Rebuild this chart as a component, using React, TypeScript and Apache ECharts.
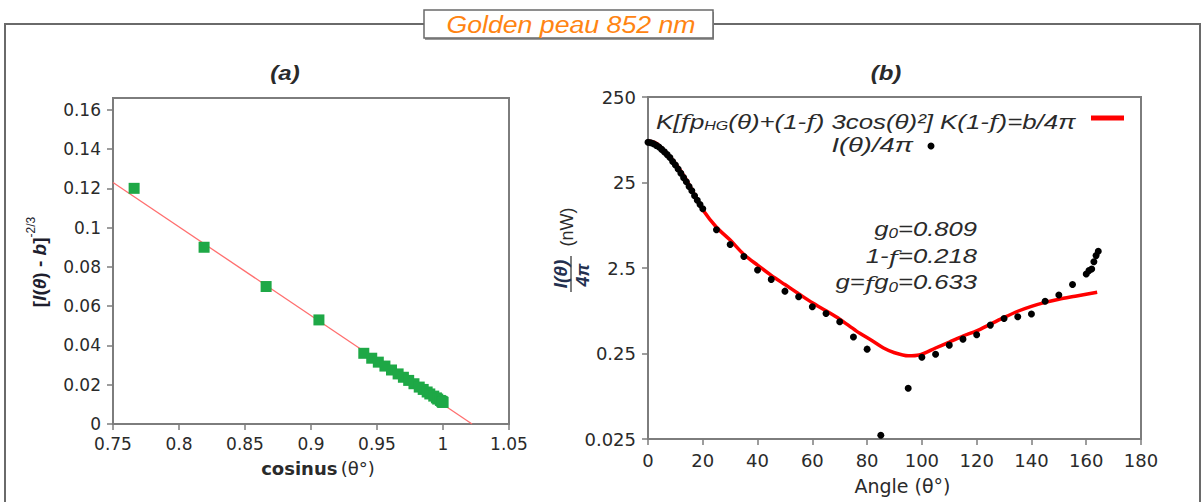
import React, { useEffect, useRef } from 'react';
import * as echarts from 'echarts';

// ---------- data: panel (a) ----------
const cosA = [0.766, 0.819, 0.866, 0.906, 0.94, 0.946, 0.951, 0.956, 0.961, 0.966, 0.97, 0.974, 0.978, 0.982, 0.985, 0.988, 0.99, 0.993, 0.995, 0.996, 0.998, 0.999, 0.9994, 0.9998, 1.0];
const valA = [0.12, 0.09, 0.07, 0.053, 0.036, 0.0335, 0.0315, 0.0295, 0.0275, 0.0255, 0.0238, 0.0222, 0.0205, 0.0188, 0.0176, 0.0163, 0.0153, 0.0142, 0.0133, 0.0127, 0.012, 0.0116, 0.0113, 0.0111, 0.011];
const fitAX = [0.75, 1.022];
const fitAY = [0.123, 0];

// ---------- data: panel (b) ----------
const angB = [0, 1, 2, 3, 4, 5, 6, 7, 8, 9, 10, 11, 12, 13, 14, 15, 16, 17, 18, 19, 20, 25, 30, 35, 40, 45, 50, 55, 60, 65, 70, 75, 80, 85, 95, 100, 105, 110, 115, 120, 125, 130, 135, 140, 145, 150, 155, 160, 161, 162, 162.8, 163.6, 164.4];
const valB = [74, 73, 71, 68, 65, 61, 57, 53, 49, 44, 40, 36, 32, 28.5, 25.5, 22.5, 20, 17.5, 15.5, 13.8, 12.3, 7.0, 4.7, 3.4, 2.37, 1.84, 1.34, 1.15, 0.88, 0.735, 0.587, 0.39, 0.281, 0.0276, 0.098, 0.226, 0.245, 0.313, 0.368, 0.414, 0.537, 0.643, 0.673, 0.723, 1.02, 1.21, 1.6, 2.13, 2.33, 2.43, 2.96, 3.49, 3.92];
const fitAngB = [0, 3, 6, 10, 14, 17, 20, 25, 30, 35, 40, 45, 50, 55, 60, 65, 70, 76, 82, 86, 90, 95, 99, 105, 110, 115, 120, 125, 130, 135, 140, 145, 150, 156, 164];
const fitValB = [77, 72, 59, 42, 27, 18, 12, 7.5, 5.3, 3.6, 2.7, 2.05, 1.6, 1.25, 0.98, 0.79, 0.63, 0.46, 0.35, 0.29, 0.255, 0.235, 0.24, 0.29, 0.34, 0.4, 0.46, 0.55, 0.66, 0.78, 0.89, 0.99, 1.08, 1.17, 1.3];
const yTicksB = ['0.025', '0.25', '2.5', '25', '250'];
const LOG_BASE_MIN = 0.025;

const FONT = '"Liberation Sans", Arial, Helvetica, sans-serif';
const WIDE = '"DejaVu Sans", "Liberation Sans", sans-serif';
const GRAY = '#7d7d7d';
const TXT = '#2a2a2a';

const toLog = (v: number) => Math.log10(v / LOG_BASE_MIN);

export default function App() {
  const ref = useRef<HTMLDivElement>(null);

  useEffect(() => {
    const chart = echarts.init(ref.current!, null, { renderer: 'svg' });

    const axisLine = { show: true, onZero: false, lineStyle: { color: GRAY, width: 2 } };
    const axisTick = { show: true, length: 6, lineStyle: { color: GRAY, width: 1.5 } };
    const labelA = { fontSize: 17, color: TXT, fontFamily: WIDE };
    const labelB = { fontSize: 18, color: TXT, fontFamily: WIDE };

    const option: any = {
      animation: false,
      backgroundColor: '#ffffff',
      grid: [
        { left: 113, top: 98, width: 396, height: 326, show: true, borderColor: GRAY, borderWidth: 2, backgroundColor: 'transparent' },
        { left: 648, top: 97, width: 493, height: 342, show: true, borderColor: GRAY, borderWidth: 2, backgroundColor: 'transparent' },
      ],
      xAxis: [
        {
          gridIndex: 0, type: 'value', min: 0.75, max: 1.05, interval: 0.05,
          axisLine, axisTick, splitLine: { show: false },
          axisLabel: { ...labelA, margin: 11 },
          name: '{b|cosinus} {n|(θ°)}', nameLocation: 'middle', nameGap: 35,
          nameTextStyle: { padding: [0, 0, 0, 14], rich: { b: { fontSize: 18, fontWeight: 'bold', color: TXT, fontFamily: WIDE }, n: { fontSize: 18, color: TXT, fontFamily: WIDE } } },
        },
        {
          gridIndex: 1, type: 'value', min: 0, max: 180, interval: 20,
          axisLine, axisTick, splitLine: { show: false },
          axisLabel: { ...labelB, margin: 12 },
          name: 'Angle (θ°)', nameLocation: 'middle', nameGap: 37,
          nameTextStyle: { fontSize: 19, color: TXT, fontFamily: WIDE, padding: [0, 0, 0, 16] },
        },
      ],
      yAxis: [
        {
          gridIndex: 0, type: 'value', min: 0, max: 0.166, interval: 0.02,
          axisLine, axisTick, splitLine: { show: false },
          axisLabel: { ...labelA, margin: 12, showMaxLabel: false },
        },
        {
          gridIndex: 1, type: 'value', min: 0, max: 4, interval: 1,
          axisLine, axisTick, splitLine: { show: false },
          axisLabel: { ...labelB, margin: 12, formatter: (v: number) => yTicksB[Math.round(v)] ?? '' },
        },
      ],
      series: [
        {
          type: 'line', xAxisIndex: 0, yAxisIndex: 0, symbol: 'none', silent: true, z: 1,
          lineStyle: { color: '#ff6f6f', width: 1.3 },
          data: fitAX.map((x, i) => [x, fitAY[i]]),
        },
        {
          type: 'scatter', xAxisIndex: 0, yAxisIndex: 0, symbol: 'rect', symbolSize: 11, z: 2,
          itemStyle: { color: '#1ea846', opacity: 1 },
          data: cosA.map((x, i) => [x, valA[i]]),
        },
        {
          type: 'line', xAxisIndex: 1, yAxisIndex: 1, symbol: 'none', smooth: 0.3, silent: true, z: 1,
          lineStyle: { color: '#ff0000', width: 3.5 },
          data: fitAngB.map((x, i) => [x, toLog(fitValB[i])]),
        },
        {
          type: 'scatter', xAxisIndex: 1, yAxisIndex: 1, symbol: 'circle', symbolSize: 7, z: 2,
          itemStyle: { color: '#000000', opacity: 1 },
          data: angB.map((x, i) => [x, toLog(valB[i])]),
        },
      ],
      graphic: [
        // outer frame
        { type: 'polyline', shape: { points: [[5, 502], [5, 24], [1200, 24], [1200, 502]] }, style: { stroke: '#6a6a6a', lineWidth: 2, fill: null }, z: 0 },
        // title box
        { type: 'rect', shape: { x: 425, y: 12, width: 289, height: 28 }, style: { fill: '#9a9a9a' }, z: 1 },
        { type: 'rect', shape: { x: 424, y: 10, width: 289, height: 28 }, style: { fill: '#ffffff', stroke: '#6a6a6a', lineWidth: 1.5 }, z: 2 },
        { type: 'text', x: 571, y: 25, scaleX: 1.16, z: 3, style: { text: 'Golden peau 852 nm', fontSize: 23, fontStyle: 'italic', fontFamily: FONT, fill: '#ff8412', align: 'center', verticalAlign: 'middle' } },
        // panel titles
        { type: 'text', x: 285, y: 73, scaleX: 1.2, style: { text: '(a)', fontSize: 20, fontStyle: 'italic', fontWeight: 'bold', fontFamily: FONT, fill: TXT, align: 'center', verticalAlign: 'middle' } },
        { type: 'text', x: 886, y: 73, scaleX: 1.2, style: { text: '(b)', fontSize: 20, fontStyle: 'italic', fontWeight: 'bold', fontFamily: FONT, fill: TXT, align: 'center', verticalAlign: 'middle' } },
        // y title (a)
        {
          type: 'text', x: 37, y: 262, rotation: Math.PI / 2,
          style: {
            text: '{m|[}{i|I}{m|(}{i|θ}{m|) - }{i|b}{m|]}{s|-2/3}',
            align: 'center', verticalAlign: 'middle', fill: '#1e1e2e',
            rich: {
              m: { fontSize: 19, fontWeight: 'bold', fontFamily: FONT, fill: '#1e1e2e', lineHeight: 24, verticalAlign: 'bottom' },
              i: { fontSize: 19, fontWeight: 'bold', fontStyle: 'italic', fontFamily: FONT, fill: '#1e1e2e', lineHeight: 24, verticalAlign: 'bottom' },
              s: { fontSize: 12, fontFamily: FONT, fill: '#1e1e2e', lineHeight: 24, verticalAlign: 'top' },
            },
          },
        },
        // y title (b): fraction I(θ)/4π (nW), rotated
        {
          type: 'group', x: 571, y: 274, rotation: Math.PI / 2,
          children: [
            { type: 'line', shape: { x1: -18, y1: 0, x2: 18, y2: 0 }, style: { stroke: '#555', lineWidth: 1.5 } },
            { type: 'text', x: 0, y: -11, style: { text: 'I(θ)', fontSize: 19, fontStyle: 'italic', fontWeight: 'bold', fontFamily: FONT, fill: '#23304f', align: 'center', verticalAlign: 'middle' } },
            { type: 'text', x: -1, y: 12, style: { text: '4π', fontSize: 18, fontStyle: 'italic', fontWeight: 'bold', fontFamily: FONT, fill: '#23304f', align: 'center', verticalAlign: 'middle' } },
            { type: 'text', x: 47, y: -4, style: { text: '(nW)', fontSize: 18, fontFamily: FONT, fill: TXT, align: 'center', verticalAlign: 'middle' } },
          ],
        },
        // legend (b)
        {
          type: 'text', x: 656, y: 119, scaleX: 1.23,
          style: {
            text: '{t|K[}{f|f}{t|p}{s|HG}{t|(θ)+(1-}{f|f}{t|) 3cos(θ)²] K(1-}{f|f}{t|)=b/4π}',
            align: 'left', verticalAlign: 'middle',
            rich: {
              t: { fontSize: 21, fontStyle: 'italic', fontFamily: FONT, fill: TXT, lineHeight: 26, verticalAlign: 'bottom' },
              f: { fontSize: 21, fontStyle: 'italic', fontFamily: '"DejaVu Serif", serif', fill: TXT, lineHeight: 26, verticalAlign: 'bottom' },
              s: { fontSize: 13, fontStyle: 'italic', fontFamily: FONT, fill: TXT, lineHeight: 24, verticalAlign: 'bottom' },
            },
          },
        },
        { type: 'line', shape: { x1: 1091, y1: 118, x2: 1124, y2: 118 }, style: { stroke: '#ff0000', lineWidth: 5 } },
        { type: 'text', x: 913, y: 145, scaleX: 1.3, style: { text: 'I(θ)/4π', fontSize: 21, fontStyle: 'italic', fontFamily: FONT, fill: TXT, align: 'right', verticalAlign: 'middle' } },
        { type: 'circle', shape: { cx: 931, cy: 146, r: 3.5 }, style: { fill: '#000' } },
        // annotations
        ...[
          ['g{s|0}=0.809', 229],
          ['1-{f|f}=0.218', 256],
          ['g={f|f}g{s|0}=0.633', 282],
        ].map(([t, y]) => ({
          type: 'text', x: 977, y: y as number, scaleX: 1.22,
          style: {
            text: t as string, align: 'right', verticalAlign: 'middle',
            rich: {
              s: { fontSize: 14, fontStyle: 'italic', fontFamily: FONT, fill: TXT, lineHeight: 23, verticalAlign: 'bottom' },
              f: { fontSize: 21, fontStyle: 'italic', fontFamily: '"DejaVu Serif", serif', fill: TXT, lineHeight: 25, verticalAlign: 'bottom' },
            },
            fontSize: 21, fontStyle: 'italic', fontFamily: FONT, fill: TXT,
          },
        })),
      ],
    };

    chart.setOption(option);
    return () => chart.dispose();
  }, []);

  return <div ref={ref} style={{ position: 'fixed', left: 0, top: 0, width: 1204, height: 502, background: '#fff' }} />;
}
